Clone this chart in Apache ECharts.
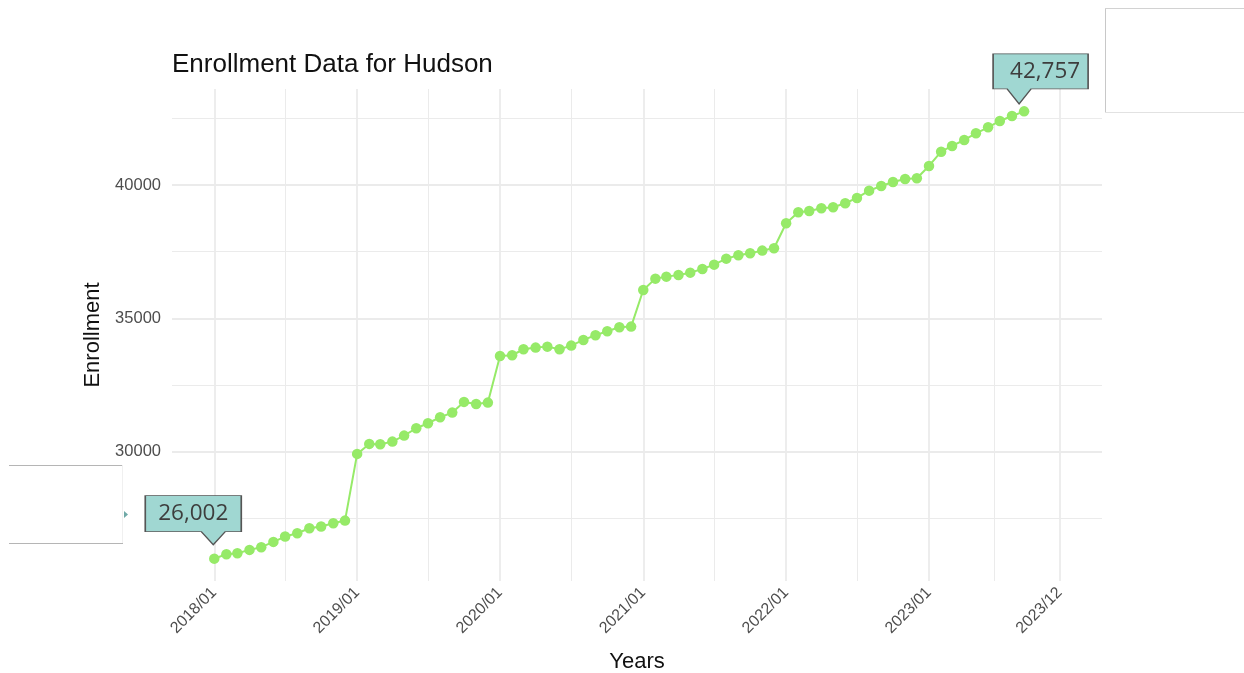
<!DOCTYPE html>
<html>
<head>
<meta charset="utf-8">
<title>Enrollment Data for Hudson</title>
<script src="https://cdn.jsdelivr.net/npm/echarts@6/dist/echarts.min.js"></script>
<style>
  html, body { margin: 0; padding: 0; background: #fff; }
  #chart { width: 1244px; height: 673px; }
</style>
</head>
<body>
<div id="chart"></div>
<script>
// monthly enrollment, 2018/01 .. 2023/09
const enroll2018 = [26002, 26168, 26206, 26330, 26431, 26629, 26828, 26953, 27140, 27203, 27330, 27427]
const enroll2019 = [29925, 30300, 30288, 30386, 30611, 30886, 31074, 31298, 31473, 31873, 31798, 31847]
const enroll2020 = [33596, 33621, 33846, 33907, 33944, 33846, 33982, 34195, 34370, 34520, 34670, 34694]
const enroll2021 = [36067, 36491, 36566, 36629, 36715, 36854, 37015, 37240, 37367, 37442, 37541, 37629]
const enroll2022 = [38565, 38977, 39026, 39126, 39164, 39314, 39513, 39787, 39963, 40112, 40225, 40250]
const enroll2023 = [40712, 41247, 41461, 41685, 41936, 42161, 42397, 42584, 42757]

// x breaks (year/month) and y breaks
const xBreaks = ['2018/01', '2019/01', '2020/01', '2021/01', '2022/01', '2023/01', '2023/12']
const yBreaks = [30000, 35000, 40000]
const yMinorBreaks = [27500, 32500, 37500, 42500]

const values = [].concat(enroll2018, enroll2019, enroll2020, enroll2021, enroll2022, enroll2023)
const toTime = (s) => {
  const [y, m] = s.split('/').map(Number)
  return Date.UTC(y, m - 1, 1)
}
const months = values.map((v, i) => Date.UTC(2018, i, 1))
const seriesData = values.map((v, i) => [months[i], v])

const xMajor = xBreaks.map(toTime)
const xMinor = xMajor.slice(1).map((t, i) => (t + xMajor[i]) / 2)

// ggplot style 5% expansion
const xSpan = xMajor[xMajor.length - 1] - xMajor[0]
const xMin = xMajor[0] - xSpan * 0.05
const xMax = xMajor[xMajor.length - 1] + xSpan * 0.05
const vMin = Math.min(...values)
const vMax = Math.max(...values)
const ySpan = vMax - vMin
const yMin = vMin - ySpan * 0.05
const yMax = vMax + ySpan * 0.05

const gridColor = '#ebebeb'
const lineColor = '#96ea68'
const textGrey = '#4d4d4d'
const font = 'Liberation Sans, Arial, sans-serif'

const chart = echarts.init(document.getElementById('chart'))
const option = {
  backgroundColor: '#fff',
  animation: false,
  title: {
    text: 'Enrollment Data for Hudson',
    left: 167,
    top: 47,
    textStyle: { fontFamily: font, fontSize: 26, fontWeight: 'normal', color: '#111' },
  },
  grid: {
    left: 172,
    right: 142,
    top: 89,
    bottom: 92,
    containLabel: false,
    outerBoundsMode: 'none',
  },
  xAxis: [
    {
      type: 'value',
      min: xMin,
      max: xMax,
      name: 'Years',
      nameLocation: 'middle',
      nameGap: 70,
      nameTextStyle: { fontFamily: font, fontSize: 22, color: '#111' },
      axisLine: { show: false },
      axisTick: { show: false, customValues: xMajor },
      splitLine: { show: true, lineStyle: { color: gridColor, width: 1.8 } },
      axisLabel: {
        customValues: xMajor,
        rotate: 45,
        margin: 9,
        fontFamily: font,
        fontSize: 16,
        color: textGrey,
        formatter: (val) => xBreaks[xMajor.indexOf(val)] || '',
      },
    },
    {
      type: 'value',
      min: xMin,
      max: xMax,
      position: 'bottom',
      axisLine: { show: false },
      axisTick: { show: false, customValues: xMinor },
      axisLabel: { show: false, customValues: xMinor },
      splitLine: { show: true, lineStyle: { color: gridColor, width: 1 } },
    },
  ],
  yAxis: [
    {
      type: 'value',
      min: yMin,
      max: yMax,
      name: 'Enrollment',
      nameLocation: 'middle',
      nameRotate: 90,
      nameGap: 64,
      nameTextStyle: { fontFamily: font, fontSize: 22, color: '#111' },
      axisLine: { show: false },
      axisTick: { show: false, customValues: yBreaks },
      splitLine: { show: true, lineStyle: { color: gridColor, width: 1.8 } },
      axisLabel: {
        customValues: yBreaks,
        margin: 11,
        fontFamily: font,
        fontSize: 16.5,
        color: textGrey,
        formatter: (val) => String(val),
      },
    },
    {
      type: 'value',
      min: yMin,
      max: yMax,
      position: 'left',
      axisLine: { show: false },
      axisTick: { show: false, customValues: yMinorBreaks },
      axisLabel: { show: false, customValues: yMinorBreaks },
      splitLine: { show: true, lineStyle: { color: gridColor, width: 1 } },
    },
  ],
  series: [
    {
      name: 'Enrollment',
      type: 'line',
      xAxisIndex: 0,
      yAxisIndex: 0,
      data: seriesData,
      symbol: 'circle',
      symbolSize: 10.5,
      showSymbol: true,
      lineStyle: { color: lineColor, width: 2 },
      itemStyle: { color: lineColor },
      silent: true,
      markPoint: {
        silent: true,
        itemStyle: { color: '#a0d7d2', borderColor: '#555', borderWidth: 1.2 },
        label: {
          show: true,
          position: 'inside',
          fontFamily: 'Open Sans, sans-serif',
          fontSize: 22.5,
          color: '#3d3d3d',
          formatter: (p) => Number(p.value).toLocaleString('en-US'),
        },
        data: [
          {
            coord: seriesData[0],
            value: values[0],
            symbol: 'path://M0,0L96,0L96,36L80,36L68,49L56,36L0,36Z',
            symbolSize: [96, 49],
            symbolOffset: [-21, -38.5],
            label: { offset: [0, -6.5] },
          },
          {
            coord: seriesData[seriesData.length - 1],
            value: values[values.length - 1],
            symbol: 'path://M0,0L95,0L95,35L38,35L26,50L14,35L0,35Z',
            symbolSize: [95, 50],
            symbolOffset: [16.5, -32.5],
            label: { offset: [4.5, -7.5] },
          },
        ],
      },
    },
  ],
  graphic: [
    // leftover overlay boxes visible in the screenshot
    { type: 'rect', silent: true, shape: { x: 9, y: 465, width: 114, height: 78 }, style: { fill: '#fff' }, z: 100 },
    { type: 'line', silent: true, shape: { x1: 9, y1: 465.5, x2: 123, y2: 465.5 }, style: { stroke: '#b5b5b5', lineWidth: 1 }, z: 101 },
    { type: 'line', silent: true, shape: { x1: 9, y1: 543.5, x2: 123, y2: 543.5 }, style: { stroke: '#b5b5b5', lineWidth: 1 }, z: 101 },
    { type: 'line', silent: true, shape: { x1: 122.5, y1: 465, x2: 122.5, y2: 543 }, style: { stroke: '#f0f0f0', lineWidth: 1 }, z: 101 },
    { type: 'polygon', silent: true, shape: { points: [[124, 511], [128, 514.5], [124, 518]] }, style: { fill: '#6fa9a7' }, z: 101 },
    { type: 'rect', silent: true, shape: { x: 1105, y: 8, width: 140, height: 104 }, style: { fill: '#fff' }, z: 100 },
    { type: 'line', silent: true, shape: { x1: 1105.5, y1: 8, x2: 1105.5, y2: 112 }, style: { stroke: '#c8c8c8', lineWidth: 1 }, z: 101 },
    { type: 'line', silent: true, shape: { x1: 1105, y1: 8.5, x2: 1244, y2: 8.5 }, style: { stroke: '#d2d2d2', lineWidth: 1 }, z: 101 },
    { type: 'line', silent: true, shape: { x1: 1105, y1: 112.5, x2: 1244, y2: 112.5 }, style: { stroke: '#e2e2e2', lineWidth: 1 }, z: 101 },
  ],
}
chart.setOption(option)
</script>
</body>
</html>
